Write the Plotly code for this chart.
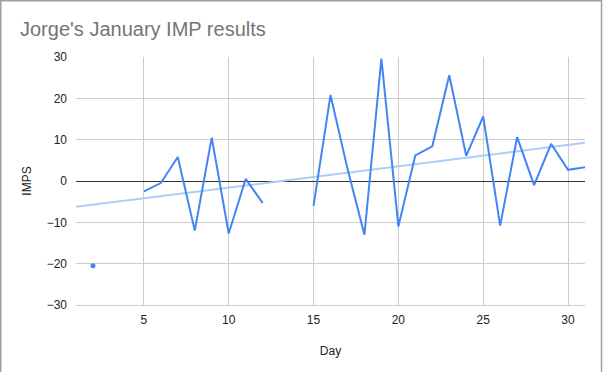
import numpy as np
import plotly.graph_objects as go

days = list(range(1, 32))
imps = [None, -20.5, None, None, -2.5, -0.5, 5.8, -12.0, 10.5, -12.7, 0.5, -5.3,
        None, None, -6.0, 20.8, 3.0, -13.0, 29.6, -11.0, 6.2, 8.4, 25.6, 6.1,
        15.6, -10.8, 10.6, -1.0, 9.0, 2.7, 3.3]
x_ticks = [5, 10, 15, 20, 25, 30]
y_ticks = [-30, -20, -10, 0, 10, 20, 30]
title_text = "Jorge's January IMP results"

W, H = 603, 372
ML, MR, MT, MB = 76, 18, 57, 67
PW, PH = W - ML - MR, H - MT - MB

blue = "#4285F4"
fig = go.Figure()

# trendline (linear fit of available data)
xs = np.array([d for d, v in zip(days, imps) if v is not None], float)
ys = np.array([v for v in imps if v is not None], float)
m, b = np.polyfit(xs, ys, 1)
tx = np.array([1, 31], float)
fig.add_trace(go.Scatter(x=tx, y=m * tx + b, mode="lines",
                         line=dict(color="#AECBFA", width=2), hoverinfo="skip"))

fig.add_trace(go.Scatter(x=days, y=imps, mode="lines",
                         line=dict(color=blue, width=2), connectgaps=False))

# isolated points shown as dots
iso_x, iso_y = [], []
for i, v in enumerate(imps):
    if v is None:
        continue
    prev_none = i == 0 or imps[i - 1] is None
    next_none = i == len(imps) - 1 or imps[i + 1] is None
    if prev_none and next_none:
        iso_x.append(days[i]); iso_y.append(v)
fig.add_trace(go.Scatter(x=iso_x, y=iso_y, mode="markers",
                         marker=dict(color=blue, size=5)))

def px_x(p):
    return (p - ML) / PW

def px_y(p):
    return 1 - (p - MT) / PH

border = "#9E9E9E"
fig.add_shape(type="line", xref="paper", yref="paper", x0=px_x(0.5), x1=px_x(0.5),
              y0=px_y(0), y1=px_y(H), line=dict(color=border, width=2), layer="above")
fig.add_shape(type="line", xref="paper", yref="paper", x0=px_x(0), x1=px_x(602),
              y0=px_y(0.5), y1=px_y(0.5), line=dict(color=border, width=2), layer="above")
fig.add_shape(type="line", xref="paper", yref="paper", x0=px_x(601.5), x1=px_x(601.5),
              y0=px_y(0), y1=px_y(H), line=dict(color=border, width=1.5), layer="above")

fig.update_layout(
    width=W, height=H,
    margin=dict(l=ML, r=MR, t=MT, b=MB),
    paper_bgcolor="white", plot_bgcolor="white",
    showlegend=False,
    font=dict(family="Liberation Sans, Arial, sans-serif", size=12, color="#222222"),
    title=dict(text=title_text, xref="container", yref="container",
               x=20 / W, xanchor="left", y=1 - 29 / H, yanchor="middle",
               font=dict(size=20, color="#757575")),
    xaxis=dict(range=[1, 31], tickvals=x_ticks, showgrid=True, gridcolor="#CCCCCC",
               gridwidth=1, zeroline=False, showline=True, linecolor="#CCCCCC",
               ticks="", ticklabelstandoff=4,
               title=dict(text="Day", standoff=20,
                          font=dict(size=12, color="#222222"))),
    yaxis=dict(range=[-30, 30], tickvals=y_ticks, showgrid=True, gridcolor="#CCCCCC",
               gridwidth=1, zeroline=True, zerolinecolor="#333333", zerolinewidth=1,
               ticks="", ticklabelstandoff=8,
               title=dict(text="IMPS", standoff=12,
                          font=dict(size=12, color="#222222"))),
)

fig.write_html("out.html")
